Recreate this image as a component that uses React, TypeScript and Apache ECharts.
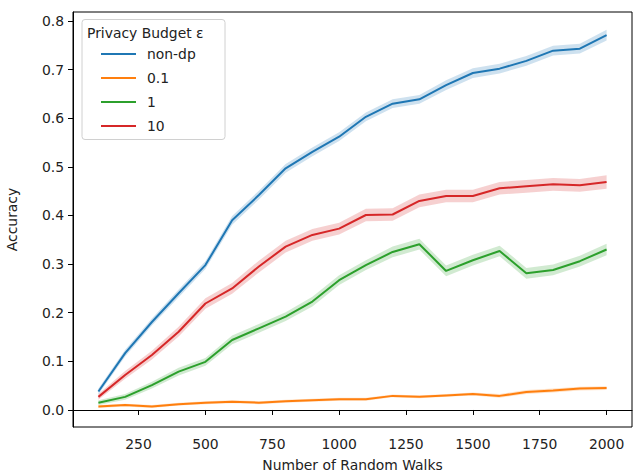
import React, { useEffect, useRef } from "react";
import * as echarts from "echarts";

const walks = [100, 200, 300, 400, 500, 600, 700, 800, 900, 1000, 1100, 1200, 1300, 1400, 1500, 1600, 1700, 1800, 1900, 2000];
const nonDp = [0.038, 0.117, 0.181, 0.240, 0.298, 0.390, 0.442, 0.497, 0.531, 0.562, 0.603, 0.630, 0.639, 0.668, 0.693, 0.702, 0.718, 0.739, 0.743, 0.771];
const eps01 = [0.007, 0.010, 0.007, 0.012, 0.015, 0.017, 0.015, 0.018, 0.020, 0.022, 0.022, 0.029, 0.027, 0.030, 0.033, 0.029, 0.037, 0.040, 0.044, 0.045];
const eps1 = [0.015, 0.027, 0.051, 0.079, 0.099, 0.144, 0.168, 0.192, 0.223, 0.267, 0.298, 0.325, 0.341, 0.286, 0.308, 0.327, 0.281, 0.288, 0.306, 0.330];
const eps10 = [0.027, 0.072, 0.113, 0.161, 0.219, 0.250, 0.295, 0.336, 0.360, 0.373, 0.401, 0.402, 0.430, 0.440, 0.440, 0.456, 0.460, 0.464, 0.462, 0.469];
// confidence-interval half-widths
const ciNonDp = [0.006, 0.007, 0.007, 0.008, 0.008, 0.009, 0.009, 0.009, 0.009, 0.009, 0.009, 0.009, 0.009, 0.010, 0.010, 0.010, 0.010, 0.010, 0.010, 0.011];
const ciEps01 = [0.003, 0.003, 0.003, 0.003, 0.003, 0.003, 0.003, 0.003, 0.003, 0.003, 0.003, 0.003, 0.003, 0.003, 0.003, 0.004, 0.004, 0.004, 0.004, 0.004];
const ciEps1 = [0.005, 0.006, 0.007, 0.008, 0.008, 0.009, 0.009, 0.009, 0.010, 0.010, 0.010, 0.011, 0.011, 0.011, 0.011, 0.011, 0.011, 0.011, 0.011, 0.012];
const ciEps10 = [0.006, 0.008, 0.009, 0.010, 0.011, 0.011, 0.012, 0.012, 0.012, 0.012, 0.013, 0.013, 0.013, 0.013, 0.013, 0.013, 0.013, 0.013, 0.013, 0.014];

const seriesNames = ["non-dp", "0.1", "1", "10"];
const seriesValues = [nonDp, eps01, eps1, eps10];
const seriesCi = [ciNonDp, ciEps01, ciEps1, ciEps10];
const colors = ["#1f77b4", "#ff7f0e", "#2ca02c", "#d62728"];
const bandColors = ["rgba(31,119,180,0.22)", "rgba(255,127,14,0.22)", "rgba(44,160,44,0.22)", "rgba(214,39,40,0.22)"];

const yTicks = [0, 0.1, 0.2, 0.3, 0.4, 0.5, 0.6, 0.7, 0.8];
const xTicks = [250, 500, 750, 1000, 1250, 1500, 1750, 2000];
const legendTitle = "Privacy Budget ε";

const FONT = "DejaVu Sans";

export default function App() {
  const ref = useRef<HTMLDivElement>(null);
  useEffect(() => {
    if (!ref.current) return;
    const chart = echarts.init(ref.current, null, { renderer: "svg" });
    const series: any[] = [];
    seriesNames.forEach((name, i) => {
      const vals = seriesValues[i];
      const ci = seriesCi[i];
      const bandData = walks.map((w, k) => [w, vals[k] - ci[k], vals[k] + ci[k]]);
      series.push({
        name: name + " band",
        type: "custom",
        silent: true,
        z: 1,
        encode: { x: 0, y: [1, 2] },
        data: bandData,
        renderItem: (params: any, api: any) => {
          if (params.dataIndex !== 0) return null;
          const upper = bandData.map((d) => api.coord([d[0], d[2]]));
          const lower = bandData.map((d) => api.coord([d[0], d[1]])).reverse();
          return {
            type: "polygon",
            shape: { points: upper.concat(lower) },
            style: { fill: bandColors[i], stroke: "none" },
          };
        },
      });
    });
    seriesNames.forEach((name, i) => {
      series.push({
        name,
        type: "line",
        data: walks.map((w, k) => [w, seriesValues[i][k]]),
        showSymbol: false,
        symbol: "none",
        color: colors[i],
        lineStyle: { color: colors[i], width: 2 },
        z: 3,
      });
    });

    chart.setOption({
      animation: false,
      textStyle: { fontFamily: FONT },
      grid: {
        left: 73,
        right: 4,
        top: 12,
        bottom: 47,
        outerBoundsMode: "none",
        containLabel: false,
        show: true,
        borderColor: "#000",
        borderWidth: 1,
        backgroundColor: "transparent",
      },
      xAxis: {
        type: "value",
        min: 5,
        max: 2095,
        name: "Number of Random Walks",
        nameLocation: "middle",
        nameGap: 31,
        nameTextStyle: { fontSize: 13.9, color: "#222", fontFamily: FONT },
        axisLine: { show: true, lineStyle: { color: "#000", width: 1 } },
        axisTick: { show: true, customValues: xTicks, length: 5, lineStyle: { color: "#000" } },
        axisLabel: {
          customValues: xTicks,
          margin: 10,
          fontSize: 13.9,
          color: "#222",
          fontFamily: FONT,
          formatter: (v: number) => String(v),
        },
        splitLine: { show: false },
      },
      yAxis: {
        type: "value",
        min: -0.035,
        max: 0.8185,
        name: "Accuracy",
        nameLocation: "middle",
        nameGap: 54,
        nameTextStyle: { fontSize: 13.9, color: "#222", fontFamily: FONT },
        axisLine: { show: true, lineStyle: { color: "#000", width: 1 } },
        axisTick: { show: true, customValues: yTicks, length: 5, lineStyle: { color: "#000" } },
        axisLabel: {
          customValues: yTicks,
          margin: 9,
          fontSize: 13.9,
          color: "#222",
          fontFamily: FONT,
          formatter: (v: number) => v.toFixed(1),
        },
        splitLine: { show: false },
      },
      legend: {
        data: seriesNames,
        orient: "vertical",
        left: 101,
        top: 46,
        padding: 0,
        itemWidth: 35,
        itemHeight: 2,
        itemGap: 8,
        icon: "rect",
        textStyle: { fontSize: 13.9, color: "#222", fontFamily: FONT, lineHeight: 16, padding: [0, 0, 0, 6] },
        z: 5,
      },
      graphic: [
        {
          type: "rect",
          z: 4,
          shape: { x: 82, y: 19.5, width: 143, height: 120, r: 3 },
          style: { fill: "rgba(255,255,255,0.85)", stroke: "#d0d0d0", lineWidth: 1 },
        },
        {
          type: "text",
          z: 5,
          x: 87,
          y: 32.5,
          style: {
            text: legendTitle,
            fontSize: 13.9,
            fontFamily: FONT,
            fill: "#222",
            verticalAlign: "middle",
            align: "left",
          },
        },
      ],
      series,
    });
    return () => chart.dispose();
  }, []);
  return (
    <div
      ref={ref}
      style={{ position: "absolute", left: 0, top: 0, width: 636, height: 474, background: "#fff" }}
    />
  );
}
